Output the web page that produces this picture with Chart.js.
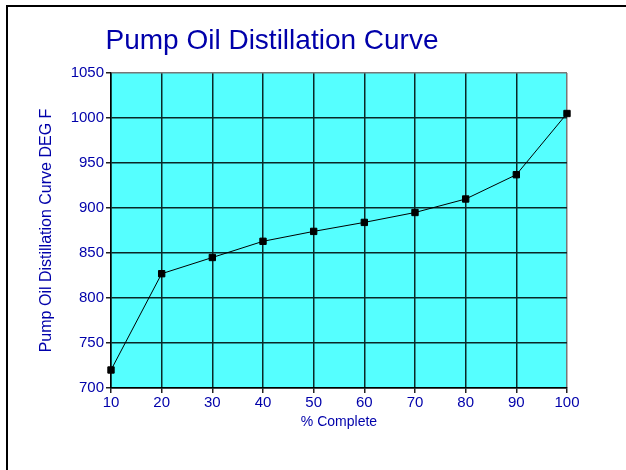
<!DOCTYPE html>
<html lang="en">
<head>
  <meta charset="UTF-8">
  <title>Pump Oil Distillation Curve</title>
  <script src="https://cdn.jsdelivr.net/npm/chart.js"></script>
  <style>
    html, body {
      margin: 0;
      padding: 0;
      background: #fff;
    }
    #wrap {
      width: 626px;
      height: 470px;
    }
  </style>
</head>
<body>
  <div id="wrap"><canvas id="chart" width="626" height="470"></canvas></div>

  <script>
    // dados
    const pctComplete = [10, 20, 30, 40, 50, 60, 70, 80, 90, 100];
    const tempDegF = [720, 827, 845, 863, 874, 884, 895, 910, 937, 1005];

    const chartTitle = 'Pump Oil Distillation Curve';
    const xTitle = '% Complete';
    const yTitle = 'Pump Oil Distillation Curve DEG F';

    const blue = '#0000AA';
    const fontFamily = '"Liberation Sans", Arial, sans-serif';

    // fundo ciano, moldura e titulo
    const decor = {
      id: 'decor',
      beforeDraw(chart) {
        const { ctx, chartArea: a } = chart;
        ctx.save();
        ctx.fillStyle = '#55FFFF';
        ctx.fillRect(a.left, a.top, a.right - a.left, a.bottom - a.top);
        ctx.restore();
      },
      afterDraw(chart) {
        const { ctx } = chart;
        ctx.save();
        ctx.fillStyle = '#000';
        ctx.fillRect(6, 5, 620, 2);
        ctx.fillRect(6, 5, 2, 465);
        ctx.fillStyle = blue;
        ctx.font = '28px ' + fontFamily;
        ctx.textAlign = 'center';
        ctx.textBaseline = 'alphabetic';
        ctx.fillText(chartTitle, 272, 49);
        ctx.restore();
      }
    };

    new Chart(document.getElementById('chart'), {
      type: 'line',
      data: {
        datasets: [{
          data: pctComplete.map((x, i) => ({ x: x, y: tempDegF[i] })),
          borderColor: '#000',
          borderWidth: 1,
          pointStyle: 'rect',
          pointRadius: 4.5,
          pointBackgroundColor: '#000',
          pointBorderColor: '#000',
          pointBorderWidth: 1,
          tension: 0,
          clip: false
        }]
      },
      options: {
        responsive: false,
        animation: false,
        layout: { padding: { left: 0, right: 59, top: 73, bottom: 0 } },
        plugins: {
          legend: { display: false },
          tooltip: { enabled: false }
        },
        scales: {
          x: {
            type: 'linear',
            min: 10,
            max: 100,
            afterFit(scale) { scale.height = 82; },
            ticks: {
              stepSize: 10,
              color: blue,
              padding: 1,
              maxRotation: 0,
              callback: v => String(v),
              font: { family: fontFamily, size: 15 }
            },
            grid: {
              color: ctx => ctx.tick && ctx.tick.value === 100 ? '#777' : '#0a2828',
              lineWidth: 1.5,
              tickLength: 5,
              tickColor: '#222'
            },
            border: { color: '#000', width: 1.5 },
            title: {
              display: true,
              text: xTitle,
              color: blue,
              padding: { top: 0, bottom: 39 },
              font: { family: fontFamily, size: 14 }
            }
          },
          y: {
            min: 700,
            max: 1050,
            afterFit(scale) { scale.width = 111; },
            ticks: {
              stepSize: 50,
              color: blue,
              padding: 2,
              callback: v => String(v),
              font: { family: fontFamily, size: 15 }
            },
            grid: {
              color: ctx => ctx.tick && ctx.tick.value === 1050 ? '#777' : '#0a2828',
              lineWidth: 1.5,
              tickLength: 5,
              tickColor: '#222'
            },
            border: { color: '#000', width: 1.5 },
            title: {
              display: true,
              text: yTitle,
              color: blue,
              padding: { top: 37, bottom: 0 },
              font: { family: fontFamily, size: 16 }
            }
          }
        }
      },
      plugins: [decor]
    });
  </script>
</body>
</html>
